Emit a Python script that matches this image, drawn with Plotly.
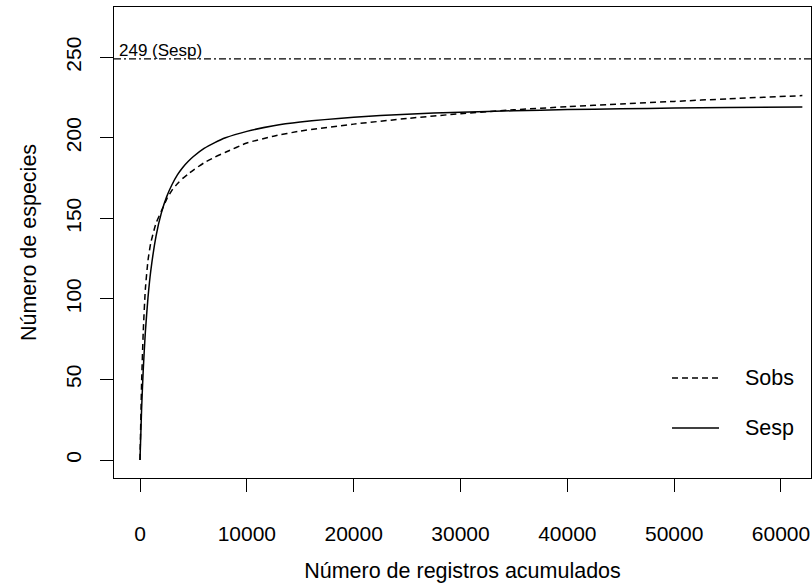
import plotly.graph_objects as go

# ---- data ----
registros = [0, 150, 300, 500, 750, 1000, 1500, 2000, 2500, 3000, 3500, 4000, 4500,
             5000, 6000, 7000, 8000, 10000, 12500, 15000, 20000, 25000, 30000, 35000,
             40000, 45000, 50000, 55000, 62000]
sobs = [0, 48, 79, 106, 124, 134.5, 147, 154.5, 162, 167.5, 171.5, 174.8, 177.5,
        180, 184.5, 188, 191, 196.8, 201, 204.2, 208.5, 212, 215, 217.4,
        219.3, 221, 222.6, 224.2, 226.2]
sesp = [0, 31.8, 55.6, 79.4, 101, 117, 139, 153.4, 163.5, 171, 177, 181.6, 185.3,
        188.4, 193.4, 197, 200, 204, 207.5, 209.8, 212.8, 214.7, 215.9, 216.8,
        217.5, 218, 218.5, 218.8, 219.2]
asintota = 249
asintota_label = "249 (Sesp)"
x_ticks = [0, 10000, 20000, 30000, 40000, 50000, 60000]
y_ticks = [0, 50, 100, 150, 200, 250]
legend_names = ["Sobs", "Sesp"]

FONT = "Liberation Sans, Arial, Helvetica, sans-serif"

fig = go.Figure()
fig.add_trace(go.Scatter(x=registros, y=sobs, mode="lines", name="Sobs",
                         line=dict(color="black", width=1.5, dash="6px,4px", shape="spline", smoothing=0.5),
                         showlegend=False))
fig.add_trace(go.Scatter(x=registros, y=sesp, mode="lines", name="Sesp",
                         line=dict(color="black", width=1.5, shape="spline", smoothing=0.5),
                         showlegend=False))

# asymptote line
fig.add_shape(type="line", xref="paper", x0=0, x1=1, yref="y", y0=asintota, y1=asintota,
              line=dict(color="black", width=1.3, dash="7px,3px,2px,3px"))
fig.add_annotation(xref="paper", x=0, xshift=3, xanchor="left", yref="y", y=asintota,
                   yanchor="middle", yshift=8, text=asintota_label, showarrow=False,
                   font=dict(family=FONT, size=17, color="black"))

# manual legend (R style)
leg_rows = [(0.2123, "6px,4px"), (0.1062, "solid")]
for (yp, dash), name in zip(leg_rows, legend_names):
    fig.add_shape(type="line", xref="paper", yref="paper", x0=0.8006, x1=0.868, y0=yp, y1=yp,
                  line=dict(color="black", width=1.5, dash=dash))
    fig.add_annotation(xref="paper", yref="paper", x=0.9024, y=yp, xanchor="left", yanchor="middle",
                       text=name, showarrow=False, font=dict(family=FONT, size=21.5, color="black"))

axis_common = dict(showgrid=False, zeroline=False, showline=True, mirror=True, linecolor="black",
                   linewidth=1, ticks="outside", ticklen=13, tickwidth=1, tickcolor="black",
                   tickfont=dict(family=FONT, size=21, color="black"))

fig.update_xaxes(range=[-2434, 62809], tickvals=x_ticks, tickformat="d",
                 ticklabelstandoff=24,
                 title=dict(text="Número de registros acumulados", standoff=18,
                            font=dict(family=FONT, size=21.5, color="black")),
                 **axis_common)
fig.update_yaxes(range=[-11.17, 281.2], tickvals=y_ticks, tickformat="d", tickangle=-90,
                 ticklabelstandoff=11,
                 title=dict(text="Número de especies", standoff=19,
                            font=dict(family=FONT, size=21.5, color="black")),
                 **axis_common)

fig.update_layout(width=812, height=585, margin=dict(l=114, r=1, t=7, b=107, autoexpand=False),
                  plot_bgcolor="white", paper_bgcolor="white",
                  font=dict(family=FONT, color="black"))

fig.write_html("out.html")
